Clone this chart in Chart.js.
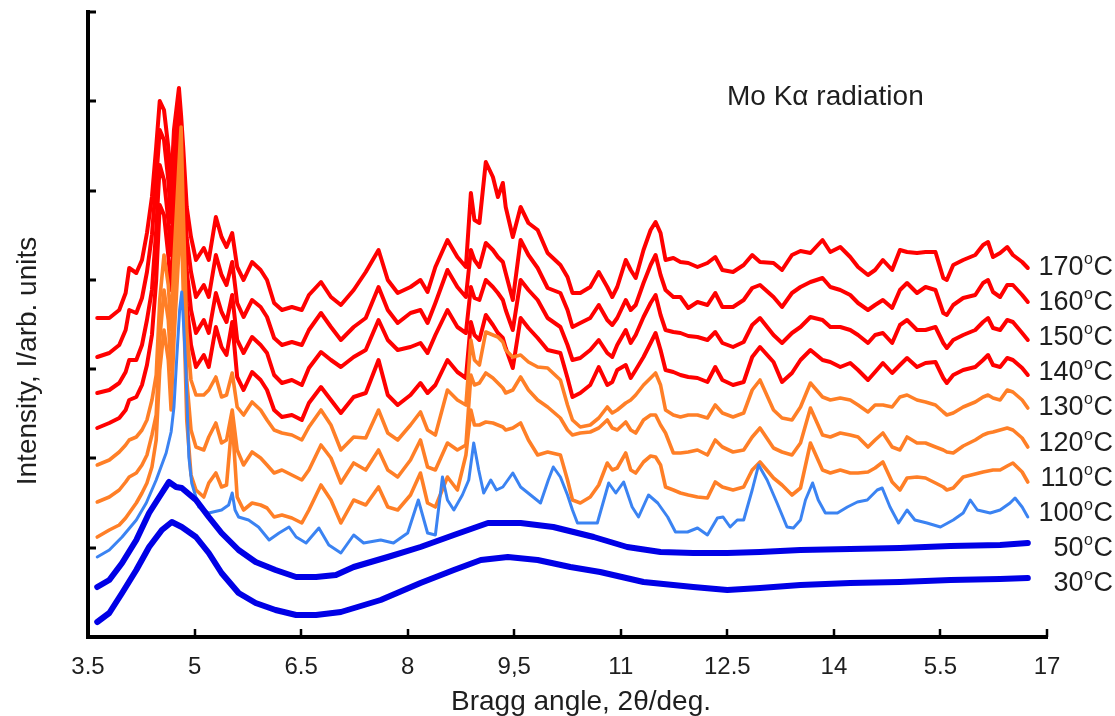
<!DOCTYPE html>
<html><head><meta charset="utf-8">
<script src="https://cdn.jsdelivr.net/npm/chart.js@4.4.0/dist/chart.umd.min.js"></script>
<style>html,body{margin:0;padding:0;background:#fff;}canvas{display:block;}</style>
</head><body>
<canvas id="c" width="1115" height="716"></canvas>
<script>
// x tick positions (2θ) and the labels printed under them (as in the original figure)
const tickAngles = [3.5, 5, 6.5, 8, 9.5, 11, 12.5, 14, 15.5, 17];
const tickLabels = ['3.5', '5', '6.5', '8', '9,5', '11', '12.5', '14', '5.5', '17'];
const temps = ['170', '160', '150', '140', '130', '120', '110', '100', '50', '30'];

// shared 2θ grid for the crystalline patterns (110-170 °C)
const angles = [3.63,3.80,3.94,4.03,4.08,4.18,4.26,4.33,4.40,4.46,4.51,4.57,4.63,4.67,4.71,4.78,4.81,4.84,4.89,4.95,
5.02,5.13,5.20,5.30,5.38,5.45,5.53,5.60,5.69,5.81,5.93,6.02,6.12,6.23,6.37,6.51,6.61,6.78,6.92,7.06,
7.24,7.41,7.59,7.72,7.86,8.04,8.18,8.28,8.39,8.56,8.70,8.82,8.89,8.94,9.01,9.10,9.20,9.27,9.34,9.38,
9.48,9.59,9.70,9.83,9.97,10.15,10.25,10.32,10.43,10.57,10.69,10.81,10.88,10.95,11.07,11.14,11.21,11.32,11.42,11.49,
11.56,11.63,11.74,11.84,11.95,12.08,12.22,12.33,12.43,12.58,12.73,12.85,12.96,13.15,13.27,13.41,13.53,13.67,13.84,13.95,
14.09,14.23,14.34,14.48,14.58,14.69,14.82,14.93,15.03,15.17,15.29,15.43,15.54,15.59,15.68,15.82,15.99,16.10,16.17,16.24,
16.34,16.44,16.52,16.65,16.73];

const i170 = [319,319,327,344,369,364,377,404,440,490,536,527,490,450,507,549,522,490,430,400,
377,389,377,420,400,390,404,370,357,375,367,357,334,327,330,327,342,355,340,332,
347,365,387,357,344,350,357,345,370,397,380,370,444,417,414,475,460,440,454,430,
400,430,414,407,384,372,360,344,344,350,365,350,340,350,377,367,359,387,407,415,
404,377,379,375,374,370,374,380,367,365,372,382,375,374,367,382,386,384,397,385,
390,380,370,362,367,377,367,387,385,384,385,385,359,357,372,377,382,392,395,380,
384,390,382,375,369];
const i160 = [280,284,292,307,327,324,339,365,402,457,507,497,457,415,469,532,502,467,399,365,
340,352,340,382,362,352,375,334,320,337,330,320,299,292,295,292,307,324,310,297,
310,319,350,327,314,324,327,314,334,367,350,340,387,377,370,394,387,380,375,364,
337,397,382,369,349,344,327,310,314,319,332,317,312,319,337,327,332,354,372,382,
362,347,340,340,329,335,332,344,330,330,337,349,352,340,330,344,350,355,359,350,
347,342,334,327,332,337,329,347,354,344,350,347,324,322,332,339,342,354,357,345,
340,352,352,342,335];
const i150 = [244,247,254,265,277,277,292,317,347,407,472,457,417,382,432,512,477,437,367,327,
304,317,304,344,325,315,342,297,284,300,292,284,262,254,257,252,269,285,277,270,
280,287,317,297,287,290,294,284,302,327,310,304,350,339,337,357,350,344,337,327,
307,357,347,337,319,310,292,277,279,287,297,284,280,292,307,294,302,320,334,342,
322,307,305,304,301,300,297,305,294,290,295,312,319,302,294,304,310,320,317,310,
310,307,302,294,302,304,294,312,317,307,307,310,294,289,297,302,307,315,319,309,
307,317,315,304,297];
const i140 = [209,214,219,227,237,240,252,272,302,357,432,422,382,347,397,487,447,402,332,292,
270,282,270,310,290,282,315,260,247,265,257,247,227,220,222,217,234,250,237,224,
240,244,277,242,232,242,254,244,252,277,265,259,315,302,297,322,312,304,299,289,
269,319,309,299,287,284,259,240,244,252,270,252,255,267,272,259,267,280,294,304,
287,267,265,262,260,259,255,270,257,252,255,280,290,275,255,264,277,287,277,275,
270,274,267,257,265,274,264,272,279,270,274,275,259,254,262,267,270,277,282,272,
270,279,277,269,262];
const i130 = [172,177,185,192,197,200,207,217,237,262,337,382,352,307,377,472,510,427,307,257,
242,242,247,260,240,242,264,230,222,235,227,217,207,204,202,197,210,227,212,187,
200,199,227,204,197,212,225,207,202,247,237,232,297,277,272,305,302,300,295,287,
280,282,275,270,269,257,232,217,210,212,219,230,224,227,234,237,242,252,259,264,
252,227,222,220,222,222,219,232,224,220,224,247,257,227,219,217,230,254,240,237,
239,237,232,225,232,232,230,240,242,237,235,232,225,222,224,230,235,240,242,239,
237,247,245,237,229];
const i120 = [135,140,147,155,160,164,172,182,202,222,297,347,317,267,337,427,467,387,257,207,
190,187,200,214,194,197,227,187,172,185,179,172,164,167,162,157,167,192,179,154,
174,167,187,167,160,177,197,170,167,194,187,192,262,252,254,264,259,254,249,244,
247,260,247,237,230,219,207,202,204,205,209,217,209,207,215,207,204,217,222,222,
212,204,184,184,185,187,182,197,190,185,187,200,209,189,185,182,194,229,202,200,
204,202,200,190,197,204,190,187,200,194,194,190,187,185,184,191,197,202,204,205,
207,209,207,199,190];
const i110 = [100,107,112,119,124,134,144,154,170,197,267,307,277,227,297,387,427,347,217,162,
147,140,154,164,150,152,217,140,127,134,132,129,120,122,119,114,127,152,137,114,
137,132,150,130,127,142,164,134,130,160,147,182,227,212,212,215,214,212,210,207,
209,214,197,182,185,182,157,137,134,140,152,174,167,169,184,167,164,175,181,180,
172,150,147,144,142,140,139,155,150,147,150,167,175,159,152,142,149,194,167,164,
167,164,164,165,169,175,155,147,159,160,159,154,150,147,149,160,163,165,166,167,
167,171,174,165,155];

// 100 °C pattern
const angles100 = [3.63,3.80,3.98,4.18,4.32,4.46,4.60,4.67,4.71,4.75,4.79,4.82,4.85,4.88,4.92,4.96,5.06,5.20,5.38,5.48,
5.53,5.57,5.62,5.76,5.90,6.05,6.19,6.33,6.43,6.57,6.75,6.89,7.06,7.24,7.38,7.62,7.80,8.00,8.15,8.28,
8.39,8.49,8.56,8.65,8.77,8.86,8.93,9.00,9.07,9.17,9.25,9.34,9.48,9.59,9.73,9.87,9.98,10.05,10.15,10.25,
10.32,10.39,10.53,10.67,10.83,10.93,11.04,11.16,11.25,11.39,11.52,11.66,11.77,11.94,12.08,12.22,12.36,12.44,12.54,12.64,
12.73,12.85,12.94,13.06,13.20,13.34,13.43,13.53,13.60,13.70,13.78,13.88,14.05,14.19,14.33,14.47,14.61,14.68,14.79,14.91,
15.03,15.14,15.31,15.50,15.68,15.82,15.92,16.02,16.20,16.34,16.48,16.55,16.65,16.73];
const i100 = [80,87,100,117,134,157,184,205,230,280,327,345,307,264,180,154,130,124,127,132,
144,127,120,117,110,97,104,110,100,94,109,92,84,102,94,97,94,104,137,104,
102,160,137,127,142,157,194,167,144,157,147,150,164,150,142,134,157,170,160,142,
127,114,114,114,154,144,155,130,120,142,134,120,105,105,109,102,119,120,110,117,
117,147,172,157,134,110,109,117,137,154,137,124,124,130,135,137,147,149,130,114,
127,117,114,110,117,124,137,127,124,127,134,139,130,120];

// amorphous patterns
const angles50 = [3.63,3.80,3.98,4.18,4.36,4.54,4.64,4.74,4.82,5.02,5.20,5.38,5.62,5.86,6.14,6.43,6.71,6.99,7.24,7.72,
8.18,8.65,9.13,9.59,10.05,10.62,11.09,11.56,12.02,12.50,12.96,13.53,14.23,14.93,15.64,16.34,16.73];
const i50 = [50,57,74,97,124,144,155,150,149,137,120,104,87,75,67,60,60,62,70,80,
90,102,114,114,110,100,90,85,84,84,85,87,88,89,91,92,94];
const angles30 = [3.63,3.80,3.98,4.18,4.36,4.54,4.68,4.82,5.02,5.20,5.38,5.62,5.86,6.14,6.43,6.71,7.06,7.62,8.18,8.65,
9.03,9.41,9.83,10.29,10.71,11.32,12.02,12.50,12.96,13.53,14.23,14.93,15.64,16.34,16.73];
const i30 = [15,24,44,67,90,107,115,110,100,84,64,44,34,27,22,22,25,37,54,67,
77,80,77,70,65,55,50,47,49,52,54,55,57,58,59];

const RED = '#ff0000', ORANGE = '#ff7f27', LBLUE = '#3b83f2', BLUE = '#0000e6';
const pts = (xs, ys) => xs.map((a, k) => ({x: a, y: ys[k]}));
const series = [
  {t: '170', d: pts(angles, i170), c: RED, w: 4},
  {t: '160', d: pts(angles, i160), c: RED, w: 4},
  {t: '150', d: pts(angles, i150), c: RED, w: 4},
  {t: '140', d: pts(angles, i140), c: RED, w: 4},
  {t: '130', d: pts(angles, i130), c: ORANGE, w: 3.6},
  {t: '120', d: pts(angles, i120), c: ORANGE, w: 3.6},
  {t: '110', d: pts(angles, i110), c: ORANGE, w: 3.6},
  {t: '100', d: pts(angles100, i100), c: LBLUE, w: 3},
  {t: '50', d: pts(angles50, i50), c: BLUE, w: 6},
  {t: '30', d: pts(angles30, i30), c: BLUE, w: 6}
];

const FONT = '"Liberation Sans", Arial, Helvetica, sans-serif';

const innerTicks = {
  id: 'innerTicks',
  afterDraw(chart) {
    const {ctx, chartArea: a, scales: {x, y}} = chart;
    ctx.save();
    ctx.strokeStyle = '#000';
    ctx.lineWidth = 2.5;
    x.ticks.forEach(t => {
      const p = Math.round(x.getPixelForValue(t.value));
      ctx.beginPath(); ctx.moveTo(p, a.bottom); ctx.lineTo(p, a.bottom - 8); ctx.stroke();
    });
    ctx.lineWidth = 3;
    y.ticks.forEach(t => {
      const p = Math.round(y.getPixelForValue(t.value));
      ctx.beginPath(); ctx.moveTo(a.left, p); ctx.lineTo(a.left + 8, p); ctx.stroke();
    });
    ctx.restore();
  }
};

const texts = {
  id: 'texts',
  afterDraw(chart) {
    const ctx = chart.ctx;
    ctx.save();
    ctx.fillStyle = '#1e1e1e';
    ctx.font = '28px ' + FONT;
    ctx.textBaseline = 'middle';
    ctx.textAlign = 'left';
    ctx.fillText('Mo K\u03b1 radiation', 727, 97);
    ctx.textAlign = 'center';
    ctx.fillText('Bragg angle, 2\u03b8/deg.', 581, 702);
    ctx.save();
    ctx.translate(28, 361);
    ctx.rotate(-Math.PI / 2);
    ctx.fillText('Intensity, I/arb. units', 0, 0);
    ctx.restore();
    ctx.textAlign = 'left';
    ctx.textBaseline = 'alphabetic';
    temps.forEach((t, k) => {
      const base = 265 + k * 35.2 + 9.5;
      ctx.font = '27px ' + FONT;
      const wT = ctx.measureText(t).width, wC = ctx.measureText('C').width;
      ctx.font = '16px ' + FONT;
      const wo = ctx.measureText('o').width;
      const x0 = 1113 - wC - wo - wT - 1;
      ctx.font = '27px ' + FONT;
      ctx.fillText(t, x0, base);
      ctx.font = '16px ' + FONT;
      ctx.fillText('o', x0 + wT + 0.5, base - 11);
      ctx.font = '27px ' + FONT;
      ctx.fillText('C', x0 + wT + wo + 1, base);
    });
    ctx.restore();
  }
};

new Chart(document.getElementById('c'), {
  type: 'line',
  data: {
    datasets: series.map((s, k) => ({
      label: s.t + ' °C',
      data: s.d,
      borderColor: s.c,
      borderWidth: s.w,
      pointRadius: 0,
      tension: 0,
      fill: false,
      order: series.length - 1 - k
    }))
  },
  options: {
    responsive: false,
    animation: false,
    events: [],
    layout: {padding: {top: 12, right: 68, left: 0, bottom: 0}},
    plugins: {legend: {display: false}, tooltip: {enabled: false}},
    elements: {line: {borderJoinStyle: 'round', borderCapStyle: 'round'}},
    scales: {
      x: {
        type: 'linear', min: 3.5, max: 17,
        afterBuildTicks: s => { s.ticks = tickAngles.map(v => ({value: v})); },
        afterFit: s => { s.height = 79; },
        ticks: {
          autoSkip: false, maxRotation: 0, padding: 16, color: '#1e1e1e',
          font: {size: 24, family: FONT},
          callback: (v, k) => tickLabels[k]
        },
        grid: {display: false, drawTicks: false},
        border: {display: true, color: '#000', width: 4}
      },
      y: {
        type: 'linear', min: 0, max: 625,
        afterBuildTicks: s => { s.ticks = [0, 1, 2, 3, 4, 5, 6, 7].map(k => ({value: k * 625 / 7})); },
        afterFit: s => { s.width = 88; },
        ticks: {display: false},
        grid: {display: false, drawTicks: false},
        border: {display: true, color: '#000', width: 4}
      }
    }
  },
  plugins: [innerTicks, texts]
});
</script>
</body></html>
